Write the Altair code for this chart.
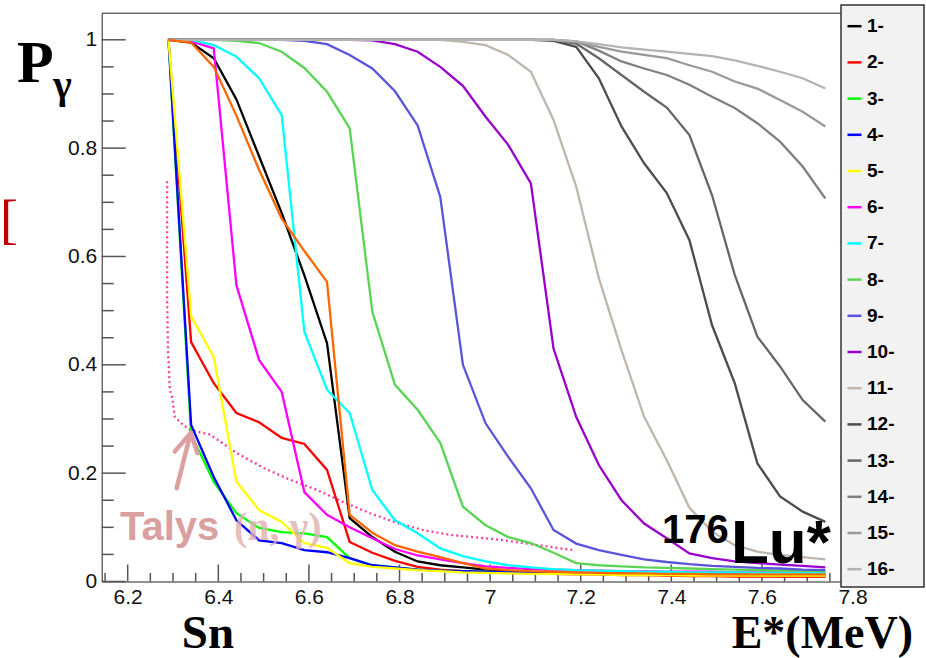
import altair as alt
import pandas as pd

# ---------------- data ----------------
energy = [6.29, 6.34, 6.39, 6.44, 6.49, 6.54, 6.59, 6.64, 6.69, 6.74,
          6.79, 6.84, 6.89, 6.94, 6.99, 7.04, 7.09, 7.14, 7.19, 7.24,
          7.29, 7.34, 7.39, 7.44, 7.49, 7.54, 7.59, 7.64, 7.69, 7.74]

p1 = [1.0, 0.995, 0.966, 0.89, 0.785, 0.68, 0.565, 0.44, 0.117, 0.082,
      0.055, 0.037, 0.030, 0.026, 0.022, 0.019, 0.017, 0.016, 0.015, 0.014,
      0.013, 0.013, 0.012, 0.012, 0.011, 0.011, 0.011, 0.010, 0.010, 0.010]
p2 = [1.0, 0.442, 0.366, 0.311, 0.294, 0.265, 0.254, 0.206, 0.073, 0.053,
      0.038, 0.027, 0.022, 0.019, 0.017, 0.016, 0.015, 0.014, 0.013, 0.013,
      0.012, 0.012, 0.011, 0.010, 0.010, 0.009, 0.009, 0.009, 0.009, 0.009]
p3 = [1.0, 0.272, 0.184, 0.126, 0.099, 0.091, 0.089, 0.082, 0.043, 0.030,
      0.026, 0.022, 0.020, 0.019, 0.018, 0.017, 0.016, 0.016, 0.015, 0.015,
      0.014, 0.014, 0.014, 0.013, 0.013, 0.013, 0.012, 0.012, 0.012, 0.012]
p4 = [1.0, 0.289, 0.193, 0.113, 0.076, 0.071, 0.058, 0.054, 0.043, 0.030,
      0.026, 0.022, 0.020, 0.019, 0.018, 0.017, 0.017, 0.016, 0.016, 0.015,
      0.015, 0.015, 0.014, 0.014, 0.014, 0.014, 0.014, 0.014, 0.014, 0.014]
p5 = [1.0, 0.49, 0.414, 0.184, 0.132, 0.11, 0.071, 0.062, 0.034, 0.027,
      0.024, 0.021, 0.019, 0.017, 0.016, 0.015, 0.014, 0.014, 0.013, 0.013,
      0.012, 0.012, 0.012, 0.011, 0.011, 0.011, 0.011, 0.011, 0.011, 0.011]
p6 = [1.0, 0.997, 0.984, 0.547, 0.409, 0.35, 0.165, 0.123, 0.1, 0.08,
      0.06, 0.048, 0.041, 0.034, 0.028, 0.025, 0.023, 0.022, 0.021, 0.020,
      0.019, 0.019, 0.018, 0.018, 0.018, 0.017, 0.017, 0.017, 0.017, 0.017]
p7 = [1.0, 1.0, 0.99, 0.969, 0.929, 0.861, 0.461, 0.354, 0.311, 0.169,
      0.113, 0.089, 0.061, 0.047, 0.037, 0.030, 0.026, 0.023, 0.021, 0.020,
      0.019, 0.018, 0.018, 0.017, 0.017, 0.017, 0.016, 0.016, 0.016, 0.016]
p8 = [1.0, 1.0, 1.0, 0.998, 0.994, 0.978, 0.948, 0.904, 0.837, 0.498,
      0.363, 0.317, 0.256, 0.138, 0.104, 0.082, 0.071, 0.053, 0.034, 0.030,
      0.028, 0.026, 0.025, 0.024, 0.023, 0.022, 0.021, 0.020, 0.020, 0.019]
p9 = [1.0, 1.0, 1.0, 1.0, 1.0, 1.0, 0.998, 0.992, 0.972, 0.947,
      0.905, 0.842, 0.71, 0.40, 0.292, 0.23, 0.172, 0.095, 0.07, 0.058,
      0.049, 0.041, 0.036, 0.032, 0.029, 0.027, 0.025, 0.024, 0.022, 0.021]
p10 = [1.0, 1.0, 1.0, 1.0, 1.0, 1.0, 1.0, 1.0, 1.0, 0.999,
       0.992, 0.978, 0.95, 0.915, 0.858, 0.806, 0.735, 0.43, 0.304, 0.215,
       0.15, 0.107, 0.08, 0.052, 0.043, 0.037, 0.034, 0.031, 0.029, 0.026]
p11 = [1.0, 1.0, 1.0, 1.0, 1.0, 1.0, 1.0, 1.0, 1.0, 1.0,
       1.0, 1.0, 1.0, 0.996, 0.99, 0.972, 0.941, 0.852, 0.729, 0.56,
       0.427, 0.304, 0.224, 0.136, 0.092, 0.067, 0.055, 0.049, 0.045, 0.041]
p12 = [1.0, 1.0, 1.0, 1.0, 1.0, 1.0, 1.0, 1.0, 1.0, 1.0,
       1.0, 1.0, 1.0, 1.0, 1.0, 1.0, 1.0, 0.998, 0.987, 0.929,
       0.84, 0.772, 0.717, 0.63, 0.473, 0.366, 0.218, 0.157, 0.129, 0.11]
p13 = [1.0, 1.0, 1.0, 1.0, 1.0, 1.0, 1.0, 1.0, 1.0, 1.0,
       1.0, 1.0, 1.0, 1.0, 1.0, 1.0, 1.0, 1.0, 0.993, 0.966,
       0.935, 0.904, 0.875, 0.824, 0.713, 0.566, 0.452, 0.397, 0.335, 0.295]
p14 = [1.0, 1.0, 1.0, 1.0, 1.0, 1.0, 1.0, 1.0, 1.0, 1.0,
       1.0, 1.0, 1.0, 1.0, 1.0, 1.0, 1.0, 1.0, 0.997, 0.98,
       0.96, 0.947, 0.935, 0.917, 0.895, 0.874, 0.846, 0.812, 0.766, 0.707]
p15 = [1.0, 1.0, 1.0, 1.0, 1.0, 1.0, 1.0, 1.0, 1.0, 1.0,
       1.0, 1.0, 1.0, 1.0, 1.0, 1.0, 1.0, 1.0, 0.996, 0.987,
       0.978, 0.972, 0.966, 0.953, 0.941, 0.923, 0.91, 0.889, 0.867, 0.84]
p16 = [1.0, 1.0, 1.0, 1.0, 1.0, 1.0, 1.0, 1.0, 1.0, 1.0,
       1.0, 1.0, 1.0, 1.0, 1.0, 1.0, 1.0, 1.0, 0.997, 0.992,
       0.986, 0.982, 0.978, 0.974, 0.97, 0.962, 0.952, 0.941, 0.929, 0.91]

p_orange = [1.0, 0.995, 0.95, 0.86, 0.76, 0.67, 0.61, 0.553, 0.123, 0.09,
            0.067, 0.055, 0.045, 0.034, 0.024, 0.021, 0.019, 0.018, 0.017, 0.016,
            0.015, 0.015, 0.014, 0.014, 0.013, 0.013, 0.013, 0.013, 0.013, 0.013]

talys_x = [6.287, 6.287, 6.289, 6.293, 6.298, 6.304, 6.322, 6.338, 6.382, 6.441,
           6.499, 6.558, 6.618, 6.675, 6.735, 6.795, 6.852, 6.912, 7.022, 7.183]
talys_y = [0.739, 0.52, 0.427, 0.354, 0.341, 0.304, 0.289, 0.28, 0.271, 0.237,
           0.21, 0.188, 0.169, 0.147, 0.126, 0.108, 0.095, 0.086, 0.077, 0.058]

arrow_seg = ["shaft", "shaft", "head", "head", "head"]
arrow_x = [6.308, 6.339, 6.304, 6.339, 6.354]
arrow_y = [0.172, 0.274, 0.240, 0.274, 0.237]

series_names = ["1-", "2-", "3-", "4-", "5-", "6-", "7-", "8-",
                "9-", "10-", "11-", "12-", "13-", "14-", "15-", "16-"]
series_colors = ["#000000", "#ff0000", "#00ff00", "#0000ff", "#ffff00", "#ff00ff",
                 "#00ffff", "#59d454", "#5954d9", "#9900cc", "#bfb6ad", "#4d4d4d",
                 "#666666", "#808080", "#999999", "#b3b3b3"]
series_values = [p1, p2, p3, p4, p5, p6, p7, p8, p9, p10, p11, p12, p13, p14, p15, p16]

x_major = [6.2, 6.4, 6.6, 6.8, 7.0, 7.2, 7.4, 7.6, 7.8]
x_minor = [6.15, 6.25, 6.3, 6.35, 6.45, 6.5, 6.55, 6.65, 6.7, 6.75, 6.85, 6.9, 6.95,
           7.05, 7.1, 7.15, 7.25, 7.3, 7.35, 7.45, 7.5, 7.55, 7.65, 7.7, 7.75, 7.85]
y_major = [0.0, 0.2, 0.4, 0.6, 0.8, 1.0]
y_minor = [0.05, 0.1, 0.15, 0.25, 0.3, 0.35, 0.45, 0.5, 0.55, 0.65, 0.7, 0.75,
           0.85, 0.9, 0.95]

# ---------------- layout ----------------
L, T = 101.7, 12.7
W, H = 778, 568.8
SANS = "Liberation Sans"
SERIF = "Liberation Serif"

rows = []
for name, vals in zip(series_names, series_values):
    for e, p in zip(energy, vals):
        rows.append({"series": name, "E": e, "P": p})
df = pd.DataFrame(rows)

xs = alt.Scale(domain=[6.1426, 7.86], nice=False, zero=False)
ys = alt.Scale(domain=[0, 1.05], nice=False, zero=False)

xaxis = alt.Axis(values=x_major, format="~g", title=None, grid=False, ticks=False,
                 tickSize=0, domain=False, labelFont=SANS, labelFontSize=21,
                 labelColor="#111", labelPadding=5)
yaxis = alt.Axis(values=y_major, format="~g", title=None, grid=False, ticks=False,
                 tickSize=0, domain=False, labelFont=SANS, labelFontSize=21,
                 labelColor="#111", labelPadding=5)

legend = alt.Legend(title=None, orient="none", legendX=743.3, legendY=4,
                    symbolType="stroke", symbolSize=196, symbolStrokeWidth=2.5,
                    labelFont=SANS, labelFontSize=19, labelFontWeight="bold",
                    labelColor="#000", rowPadding=16.2, labelOffset=3, padding=0)

lines = alt.Chart(df).mark_line(strokeWidth=2.3).encode(
    x=alt.X("E:Q", scale=xs, axis=xaxis),
    y=alt.Y("P:Q", scale=ys, axis=yaxis),
    color=alt.Color("series:N", scale=alt.Scale(domain=series_names, range=series_colors),
                    legend=legend, sort=series_names),
)

orange = alt.Chart(pd.DataFrame({"E": energy, "P": p_orange})).mark_line(
    strokeWidth=2.3, color="#ff6600").encode(x=alt.X("E:Q", scale=xs), y=alt.Y("P:Q", scale=ys))

talys_df = pd.DataFrame({"E": talys_x, "P": talys_y, "i": list(range(len(talys_x)))})
talys = alt.Chart(talys_df).mark_line(strokeWidth=2.3, color="#ff3d9e", strokeDash=[2, 3]).encode(
    x=alt.X("E:Q", scale=xs), y=alt.Y("P:Q", scale=ys), order="i:Q")

arrow_df = pd.DataFrame({"seg": arrow_seg, "E": arrow_x, "P": arrow_y,
                         "i": list(range(len(arrow_x)))})
arrow = alt.Chart(arrow_df).mark_line(strokeWidth=4.5, color="#dca0a0", strokeCap="round",
                                      strokeJoin="round").encode(
    x=alt.X("E:Q", scale=xs), y=alt.Y("P:Q", scale=ys), detail="seg:N", order="i:Q")

# tick marks (inward, ROOT style)
def yticks(vals, length):
    return alt.Chart(pd.DataFrame({"v": vals})).mark_rule(color="#555", strokeWidth=1.5).encode(
        y=alt.Y("v:Q", scale=ys), x=alt.value(0), x2=alt.value(length))

def xticks(vals, length):
    return alt.Chart(pd.DataFrame({"v": vals})).mark_rule(color="#555", strokeWidth=1.5).encode(
        x=alt.X("v:Q", scale=xs), y=alt.value(H), y2=alt.value(H - length))

def label(text, px, py, size, font, color="#000", align="left", weight="bold", opacity=1.0):
    return alt.Chart(pd.DataFrame({"t": [text]})).mark_text(
        font=font, fontSize=size, fontWeight=weight, color=color, align=align,
        baseline="alphabetic", opacity=opacity).encode(
        text="t:N", x=alt.value(px - L), y=alt.value(py - T))

legend_box = alt.Chart(pd.DataFrame({"a": [0]})).mark_rect(
    fill="#f2f2f2", stroke="#333", strokeWidth=1.5).encode(
    x=alt.value(841 - L), x2=alt.value(924 - L), y=alt.value(5 - T), y2=alt.value(587 - T))

texts = [
    label("P", 17, 82, 60, SERIF),
    label("γ", 53, 98, 40, SERIF),
    label("[", 0, 238, 54, SERIF, color="#c00000", weight="normal"),
    label("Sn", 208, 648, 47, SERIF, align="center"),
    label("E*(MeV)", 913, 648, 46, SERIF, align="right"),
    label("176", 662, 543, 40, SANS),
    label("Lu*", 731, 563, 62, SANS),
    label("Talys", 120, 540, 40, SANS, color="#d9a0a0"),
    label("(n, γ)", 234, 540, 40, SERIF, color="#e0b0b0", opacity=0.8),
]

chart = alt.layer(
    yticks(y_major, 24), yticks(y_minor, 12), xticks(x_major, 17), xticks(x_minor, 8.5),
    talys, lines, orange, arrow, legend_box, *texts
).properties(
    width=W, height=H,
    autosize=alt.AutoSizeParams(type="none"),
    padding={"left": L, "top": T, "right": 926 - L - W, "bottom": 658 - T - H},
    background="white",
).configure_view(stroke="#222", strokeWidth=1)

chart.save("out.html", embed_options={"renderer": "svg", "actions": False})
